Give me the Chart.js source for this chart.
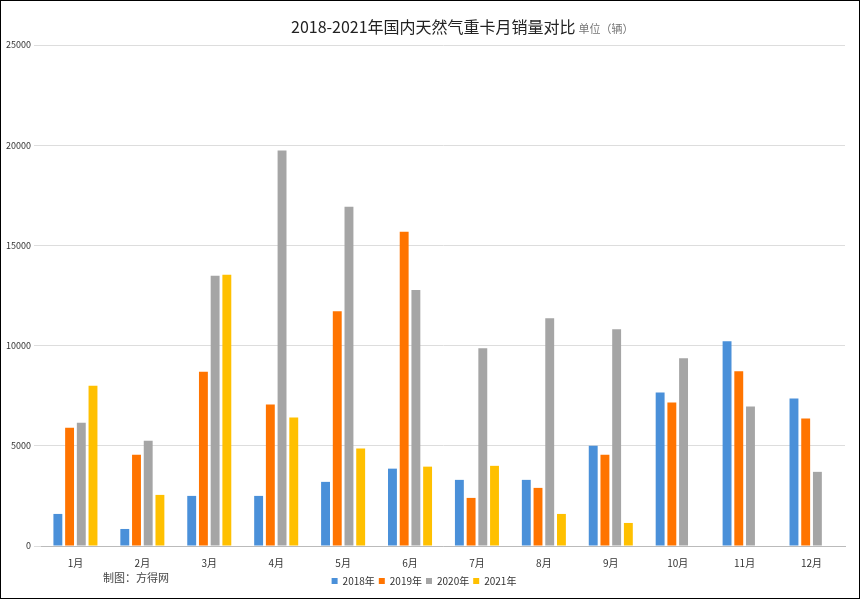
<!DOCTYPE html>
<html><head><meta charset="utf-8">
<script src="https://cdn.jsdelivr.net/npm/chart.js@4/dist/chart.umd.min.js"></script>
<style>
html,body{margin:0;padding:0;background:#fff}
#wrap{position:absolute;left:0;top:0;width:858px;height:597px;border:1px solid #000}
</style></head><body>
<div id="wrap"><canvas id="c" width="858" height="597"></canvas></div>
<script>
const categories=['1月','2月','3月','4月','5月','6月','7月','8月','9月','10月','11月','12月'];
const s2018=[1600,850,2500,2500,3200,3860,3300,3300,5000,7660,10220,7360];
const s2019=[5900,4550,8700,7060,11720,15680,2400,2900,4550,7160,8720,6360];
const s2020=[6150,5250,13480,19740,16930,12780,9870,11370,10820,9370,6960,3700];
const s2021=[8000,2550,13530,6410,4860,3960,4000,1600,1150,null,null,null];
const seriesNames=['2018年','2019年','2020年','2021年'];
const colors=['#4A90D9','#FF7400','#A5A5A5','#FFC000'];
const F='"Noto Sans CJK SC", sans-serif';
const extra={id:'extra',afterDraw(ch){
  const c=ch.ctx;c.save();
  c.font='16px '+F;c.fillStyle='#222';c.textBaseline='middle';
  const t='2018-2021年国内天然气重卡月销量对比';
  const w=c.measureText(t).width;const x0=290;
  c.fillText(t,x0,26);
  c.font='11px '+F;c.fillStyle='#777';c.fillText('单位（辆）',x0+w+3,28);
  c.font='11px '+F;c.fillStyle='#444';c.fillText('制图：方得网',102,577);
  c.restore();}};
new Chart(document.getElementById('c'),{
 type:'bar',
 data:{labels:categories,datasets:[s2018,s2019,s2020,s2021].map((d,i)=>({label:seriesNames[i],data:d,backgroundColor:colors[i],categoryPercentage:0.7,barPercentage:0.76}))},
 options:{responsive:false,maintainAspectRatio:false,animation:false,devicePixelRatio:1,
  layout:{padding:{top:44,right:14,left:2,bottom:2}},
  plugins:{legend:{position:'bottom',labels:{boxWidth:6,boxHeight:6,font:{size:10,family:F},color:'#333',padding:4}},title:{display:false},tooltip:{enabled:false}},
  scales:{
   x:{grid:{display:false},border:{color:'#bbb'},ticks:{maxRotation:0,font:{size:10,family:F},color:'#333'}},
   y:{min:0,max:25000,ticks:{stepSize:5000,callback:v=>String(v),font:{size:9,family:F},color:'#333'},grid:{color:'#ddd'},border:{display:false}}
  }},
 plugins:[extra]
});
</script>
</body></html>
